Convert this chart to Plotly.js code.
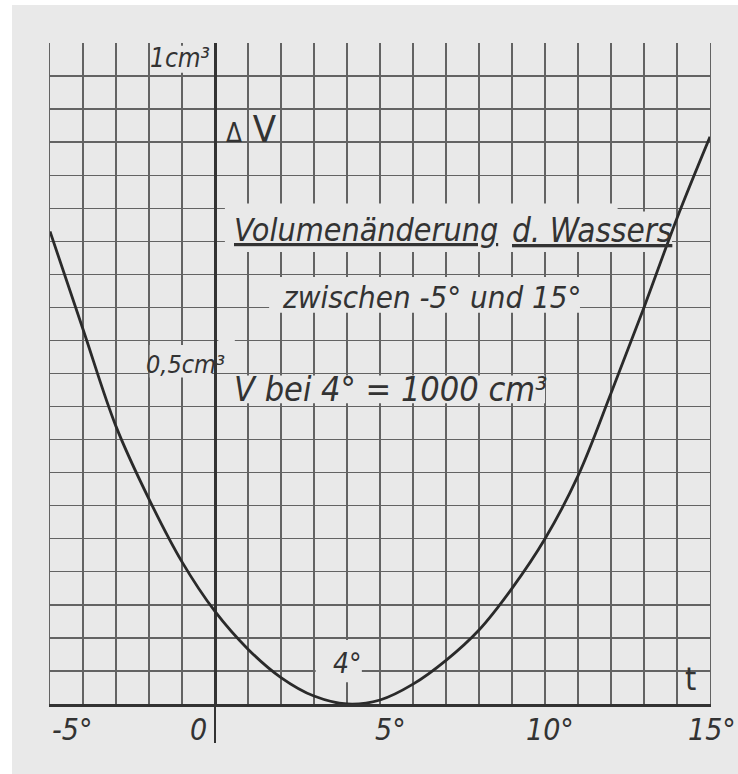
<!DOCTYPE html>
<html>
<head>
<meta charset="utf-8">
<script src="https://cdn.plot.ly/plotly-3.0.1.min.js"></script>
<style>
  html, body { margin: 0; padding: 0; background: #ffffff; width: 738px; height: 774px; overflow: hidden; }
  #chart { position: absolute; left: 12px; top: 5px; width: 726px; height: 769px; }
</style>
</head>
<body>
<div id="chart"></div>
<script>
// Temperature of the water in °C
const temperatures = [-5, -4, -3, -2, -1, 0, 1, 2, 3, 4, 5, 6, 7, 8, 9, 10, 11, 12, 13, 14, 15];
// Change of volume in cm³ for 1000 cm³ of water at 4 °C
const volumeChange = [0.715, 0.567, 0.42, 0.31, 0.215, 0.14, 0.083, 0.04, 0.012, 0.0, 0.006,
                      0.030, 0.066, 0.112, 0.175, 0.25, 0.345, 0.47, 0.60, 0.735, 0.858];

// Labels along the temperature axis
const tickValues = [-5, 0, 5, 10, 15];
const tickLabels = ['-5°', '0', '5°', '10°', '15°'];

// Texts written on the sheet
const titleWords = ['Volumenänderung', 'd. Wassers'];
const subtitleText = 'zwischen -5° und 15°';
const referenceText = 'V bei 4° = 1000 cm³';
const upperMark = '1cm³';
const halfMark = '0,5cm³';
const minimumLabel = '4°';
const yName = ['Δ', 'V'];
const xName = 't';

const paper = '#e9e9e9';
const ink = '#333333';
const gridInk = '#636363';
const hand = { family: 'DejaVu Sans Condensed, DejaVu Sans, sans-serif', color: ink, style: 'italic' };

function handFont(size, extra) {
  return Object.assign({}, hand, { size: size }, extra || {});
}

// Blank patches of paper around the lettering, laid over the grid but under the curve
function patch(x0, x1, y0, y1) {
  return { type: 'rect', xref: 'x', yref: 'y', x0: x0, x1: x1, y0: y0, y1: y1,
           fillcolor: paper, line: { width: 0 }, layer: 'between' };
}

const tickShift = [22, -17, 10, 5, 2];
const tickAnnotations = tickValues.map((v, i) => ({
  x: v, xref: 'x', y: -0.038, yref: 'paper', text: tickLabels[i], showarrow: false,
  xanchor: 'center', yanchor: 'middle', xshift: tickShift[i], font: handFont(30)
}));

const trace = {
  x: temperatures, y: volumeChange, type: 'scatter', mode: 'lines',
  line: { color: '#2a2a2a', width: 2.8, shape: 'spline', smoothing: 1 },
  hoverinfo: 'skip'
};

const layout = {
  width: 726, height: 769,
  margin: { l: 38, r: 28, t: 38, b: 70 },
  paper_bgcolor: paper, plot_bgcolor: paper,
  showlegend: false,
  xaxis: {
    range: [-5, 15], fixedrange: true,
    tickmode: 'array', tickvals: [0], ticks: 'outside', ticklen: 36, tickwidth: 2.5, tickcolor: ink,
    showticklabels: false, showgrid: false,
    minor: { dtick: 1, tick0: 0, showgrid: true, gridcolor: gridInk, gridwidth: 1.4, ticks: '' },
    zeroline: true, zerolinecolor: ink, zerolinewidth: 3,
    showline: true, linecolor: ink, linewidth: 3, mirror: false
  },
  // frame line along the top edge
  xaxis2: {
    range: [-5, 15], fixedrange: true, overlaying: 'x', side: 'top', anchor: 'y',
    showline: true, linecolor: gridInk, linewidth: 1.4,
    showgrid: false, zeroline: false, ticks: '', showticklabels: false
  },
  yaxis: {
    range: [0, 1], fixedrange: true,
    dtick: 0.05, tick0: 0, showgrid: true, gridcolor: gridInk, gridwidth: 1.4,
    ticks: '', showticklabels: false, zeroline: false,
    showline: true, mirror: true, linecolor: gridInk, linewidth: 1.4
  },
  shapes: [
    patch(-1.85, -0.12, 0.955, 0.996),
    patch(0.3, 12.2, 0.684, 0.757),
    patch(12.2, 13.85, 0.684, 0.745),
    patch(1.64, 11.06, 0.592, 0.646),
    patch(-1.98, -0.1, 0.494, 0.543),
    patch(0.1, 0.6, 0.535, 0.56),
    patch(0.5, 10.0, 0.455, 0.497),
    patch(3.05, 4.45, 0.033, 0.097)
  ],
  annotations: [
    { x: 0.5, y: 0.717, xref: 'x', yref: 'y', xanchor: 'left', yanchor: 'middle', showarrow: false,
      text: titleWords[0], font: handFont(32, { lineposition: 'under' }) },
    { x: 8.95, y: 0.717, xref: 'x', yref: 'y', xanchor: 'left', yanchor: 'middle', showarrow: false,
      text: titleWords[1], font: handFont(33, { lineposition: 'under' }) },
    { x: 6.55, y: 0.616, xref: 'x', yref: 'y', xanchor: 'center', yanchor: 'middle', showarrow: false,
      text: subtitleText, font: handFont(31) },
    { x: 0.5, y: 0.477, xref: 'x', yref: 'y', xanchor: 'left', yanchor: 'middle', showarrow: false,
      text: referenceText, font: handFont(34) },
    { x: -0.1, y: 0.977, xref: 'x', yref: 'y', xanchor: 'right', yanchor: 'middle', showarrow: false,
      text: upperMark, font: handFont(26) },
    { x: 0.35, y: 0.514, xref: 'x', yref: 'y', xanchor: 'right', yanchor: 'middle', showarrow: false,
      text: halfMark, font: handFont(25) },
    { x: 0.28, y: 0.87, xref: 'x', yref: 'y', xanchor: 'left', yanchor: 'middle', showarrow: false,
      text: yName[0] + '<span style="font-size:38px"> ' + yName[1] + '</span>',
      font: handFont(26, { style: 'normal' }) },
    { x: 4.03, y: 0.062, xref: 'x', yref: 'y', xanchor: 'center', yanchor: 'middle', showarrow: false,
      text: minimumLabel, font: handFont(28) },
    { x: 14.42, y: 0.038, xref: 'x', yref: 'y', xanchor: 'center', yanchor: 'middle', showarrow: false,
      text: xName, font: handFont(32, { style: 'normal' }) }
  ].concat(tickAnnotations)
};

Plotly.newPlot('chart', [trace], layout, { staticPlot: true, displayModeBar: false });
</script>
</body>
</html>
